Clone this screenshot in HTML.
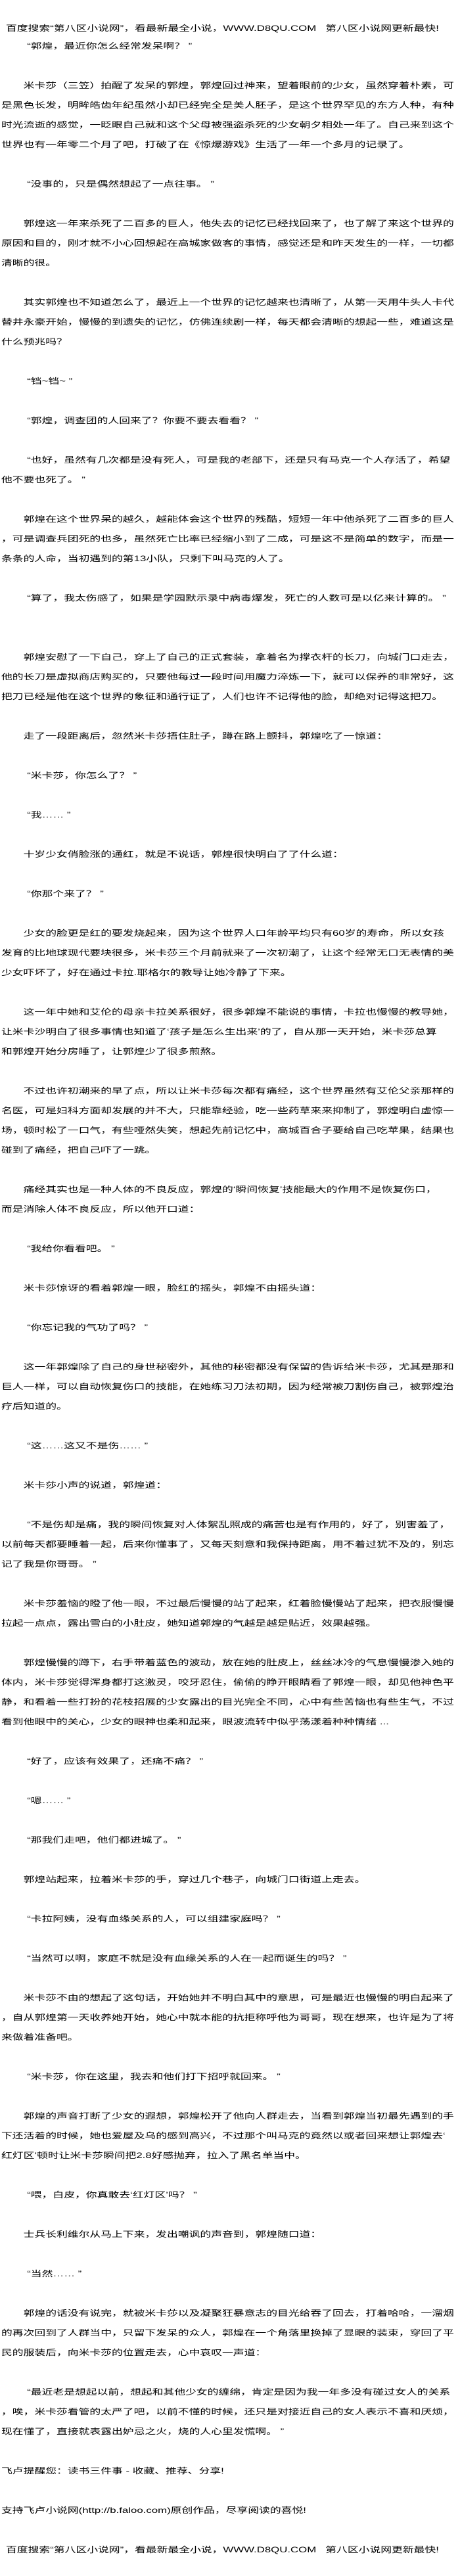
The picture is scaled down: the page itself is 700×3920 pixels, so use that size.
<!DOCTYPE html>
<html lang="zh-CN">
<head>
<meta charset="utf-8">
<style>
html,body{margin:0;padding:0;background:#fff;}
body{width:700px;height:3920px;position:relative;overflow:hidden;}
.wrap{position:absolute;left:2px;top:0;width:500px;transform:scaleX(1.4);transform-origin:0 0;
font-family:"Liberation Sans","Noto Sans CJK SC",sans-serif;font-size:12px;color:#000;}
.hd{position:absolute;left:5px;white-space:nowrap;height:30px;line-height:30px;}
.body{position:absolute;left:0;top:55px;width:500px;}
.l{height:30px;line-height:30px;white-space:nowrap;}
.p{padding-left:24px;}
.q{padding-left:28px;}
</style>
</head>
<body>
<div class="wrap">
<div class="hd" style="top:28px">百度搜索“第八区小说网”，看最新最全小说，WWW.D8QU.COM&nbsp;&nbsp;&nbsp;第八区小说网更新最快!</div>
<div class="body">
<div class="l q">“郭煌，最近你怎么经常发呆啊？ ”</div>
<div class="l"></div>
<div class="l p">米卡莎（三笠）拍醒了发呆的郭煌，郭煌回过神来，望着眼前的少女，虽然穿着朴素，可</div>
<div class="l">是黑色长发，明眸皓齿年纪虽然小却已经完全是美人胚子，是这个世界罕见的东方人种，有种</div>
<div class="l">时光流逝的感觉，一眨眼自己就和这个父母被强盗杀死的少女朝夕相处一年了。自己来到这个</div>
<div class="l">世界也有一年零二个月了吧，打破了在《惊爆游戏》生活了一年一个多月的记录了。</div>
<div class="l"></div>
<div class="l q">“没事的，只是偶然想起了一点往事。 ”</div>
<div class="l"></div>
<div class="l p">郭煌这一年来杀死了二百多的巨人，他失去的记忆已经找回来了，也了解了来这个世界的</div>
<div class="l">原因和目的，刚才就不小心回想起在高城家做客的事情，感觉还是和昨天发生的一样，一切都</div>
<div class="l">清晰的很。</div>
<div class="l"></div>
<div class="l p">其实郭煌也不知道怎么了，最近上一个世界的记忆越来也清晰了，从第一天用牛头人卡代</div>
<div class="l">替井永豪开始，慢慢的到遗失的记忆，仿佛连续剧一样，每天都会清晰的想起一些，难道这是</div>
<div class="l">什么预兆吗？</div>
<div class="l"></div>
<div class="l q">“铛~铛~ ”</div>
<div class="l"></div>
<div class="l q">“郭煌，调查团的人回来了？你要不要去看看？ ”</div>
<div class="l"></div>
<div class="l q">“也好，虽然有几次都是没有死人，可是我的老部下，还是只有马克一个人存活了，希望</div>
<div class="l">他不要也死了。 ”</div>
<div class="l"></div>
<div class="l p">郭煌在这个世界呆的越久，越能体会这个世界的残酷，短短一年中他杀死了二百多的巨人</div>
<div class="l">，可是调查兵团死的也多，虽然死亡比率已经缩小到了二成，可是这不是简单的数字，而是一</div>
<div class="l">条条的人命，当初遇到的第13小队，只剩下叫马克的人了。</div>
<div class="l"></div>
<div class="l q">“算了，我太伤感了，如果是学园默示录中病毒爆发，死亡的人数可是以亿来计算的。 ”</div>
<div class="l"></div>
<div class="l"></div>
<div class="l p">郭煌安慰了一下自己，穿上了自己的正式套装，拿着名为撑衣杆的长刀，向城门口走去，</div>
<div class="l">他的长刀是虚拟商店购买的，只要他每过一段时间用魔力淬炼一下，就可以保养的非常好，这</div>
<div class="l">把刀已经是他在这个世界的象征和通行证了，人们也许不记得他的脸，却绝对记得这把刀。</div>
<div class="l"></div>
<div class="l p">走了一段距离后，忽然米卡莎捂住肚子，蹲在路上颤抖，郭煌吃了一惊道：</div>
<div class="l"></div>
<div class="l q">“米卡莎，你怎么了？ ”</div>
<div class="l"></div>
<div class="l q">“我…… ”</div>
<div class="l"></div>
<div class="l p">十岁少女俏脸涨的通红，就是不说话，郭煌很快明白了了什么道：</div>
<div class="l"></div>
<div class="l q">“你那个来了？ ”</div>
<div class="l"></div>
<div class="l p">少女的脸更是红的要发烧起来，因为这个世界人口年龄平均只有60岁的寿命，所以女孩</div>
<div class="l">发育的比地球现代要块很多，米卡莎三个月前就来了一次初潮了，让这个经常无口无表情的美</div>
<div class="l">少女吓坏了，好在通过卡拉.耶格尔的教导让她冷静了下来。</div>
<div class="l"></div>
<div class="l p">这一年中她和艾伦的母亲卡拉关系很好，很多郭煌不能说的事情，卡拉也慢慢的教导她，</div>
<div class="l">让米卡沙明白了很多事情也知道了‘孩子是怎么生出来’的了，自从那一天开始，米卡莎总算</div>
<div class="l">和郭煌开始分房睡了，让郭煌少了很多煎熬。</div>
<div class="l"></div>
<div class="l p">不过也许初潮来的早了点，所以让米卡莎每次都有痛经，这个世界虽然有艾伦父亲那样的</div>
<div class="l">名医，可是妇科方面却发展的并不大，只能靠经验，吃一些药草来来抑制了，郭煌明白虚惊一</div>
<div class="l">场，顿时松了一口气，有些哑然失笑，想起先前记忆中，高城百合子要给自己吃苹果，结果也</div>
<div class="l">碰到了痛经，把自己吓了一跳。</div>
<div class="l"></div>
<div class="l p">痛经其实也是一种人体的不良反应，郭煌的‘瞬间恢复’技能最大的作用不是恢复伤口，</div>
<div class="l">而是消除人体不良反应，所以他开口道：</div>
<div class="l"></div>
<div class="l q">“我给你看看吧。 ”</div>
<div class="l"></div>
<div class="l p">米卡莎惊讶的看着郭煌一眼，脸红的摇头，郭煌不由摇头道：</div>
<div class="l"></div>
<div class="l q">“你忘记我的气功了吗？ ”</div>
<div class="l"></div>
<div class="l p">这一年郭煌除了自己的身世秘密外，其他的秘密都没有保留的告诉给米卡莎，尤其是那和</div>
<div class="l">巨人一样，可以自动恢复伤口的技能，在她练习刀法初期，因为经常被刀割伤自己，被郭煌治</div>
<div class="l">疗后知道的。</div>
<div class="l"></div>
<div class="l q">“这……这又不是伤…… ”</div>
<div class="l"></div>
<div class="l p">米卡莎小声的说道，郭煌道：</div>
<div class="l"></div>
<div class="l q">“不是伤却是痛，我的瞬间恢复对人体絮乱照成的痛苦也是有作用的，好了，别害羞了，</div>
<div class="l">以前每天都要睡着一起，后来你懂事了，又每天刻意和我保持距离，用不着过犹不及的，别忘</div>
<div class="l">记了我是你哥哥。 ”</div>
<div class="l"></div>
<div class="l p">米卡莎羞恼的瞪了他一眼，不过最后慢慢的站了起来，红着脸慢慢站了起来，把衣服慢慢</div>
<div class="l">拉起一点点，露出雪白的小肚皮，她知道郭煌的气越是越是贴近，效果越强。</div>
<div class="l"></div>
<div class="l p">郭煌慢慢的蹲下，右手带着蓝色的波动，放在她的肚皮上，丝丝冰冷的气息慢慢渗入她的</div>
<div class="l">体内，米卡莎觉得浑身都打这激灵，咬牙忍住，偷偷的睁开眼睛看了郭煌一眼，却见他神色平</div>
<div class="l">静，和看着一些打扮的花枝招展的少女露出的目光完全不同，心中有些苦恼也有些生气，不过</div>
<div class="l">看到他眼中的关心，少女的眼神也柔和起来，眼波流转中似乎荡漾着种种情绪 ...</div>
<div class="l"></div>
<div class="l q">“好了，应该有效果了，还痛不痛？ ”</div>
<div class="l"></div>
<div class="l q">“嗯…… ”</div>
<div class="l"></div>
<div class="l q">“那我们走吧，他们都进城了。 ”</div>
<div class="l"></div>
<div class="l p">郭煌站起来，拉着米卡莎的手，穿过几个巷子，向城门口街道上走去。</div>
<div class="l"></div>
<div class="l q">“卡拉阿姨，没有血缘关系的人，可以组建家庭吗？ ”</div>
<div class="l"></div>
<div class="l q">“当然可以啊，家庭不就是没有血缘关系的人在一起而诞生的吗？ ”</div>
<div class="l"></div>
<div class="l p">米卡莎不由的想起了这句话，开始她并不明白其中的意思，可是最近也慢慢的明白起来了</div>
<div class="l">，自从郭煌第一天收养她开始，她心中就本能的抗拒称呼他为哥哥，现在想来，也许是为了将</div>
<div class="l">来做着准备吧。</div>
<div class="l"></div>
<div class="l q">“米卡莎，你在这里，我去和他们打下招呼就回来。 ”</div>
<div class="l"></div>
<div class="l p">郭煌的声音打断了少女的遐想，郭煌松开了他向人群走去，当看到郭煌当初最先遇到的手</div>
<div class="l">下还活着的时候，她也爱屋及乌的感到高兴，不过那个叫马克的竟然以或者回来想让郭煌去‘</div>
<div class="l">红灯区’顿时让米卡莎瞬间把2.8好感抛弃，拉入了黑名单当中。</div>
<div class="l"></div>
<div class="l q">“喂，白皮，你真敢去‘红灯区’吗？ ”</div>
<div class="l"></div>
<div class="l p">士兵长利维尔从马上下来，发出嘲讽的声音到，郭煌随口道：</div>
<div class="l"></div>
<div class="l q">“当然…… ”</div>
<div class="l"></div>
<div class="l p">郭煌的话没有说完，就被米卡莎以及凝聚狂暴意志的目光给吞了回去，打着哈哈，一溜烟</div>
<div class="l">的再次回到了人群当中，只留下发呆的众人，郭煌在一个角落里换掉了显眼的装束，穿回了平</div>
<div class="l">民的服装后，向米卡莎的位置走去，心中哀叹一声道：</div>
<div class="l"></div>
<div class="l q">“最近老是想起以前，想起和其他少女的缠绵，肯定是因为我一年多没有碰过女人的关系</div>
<div class="l">，唉，米卡莎看管的太严了吧，以前不懂的时候，还只是对接近自己的女人表示不喜和厌烦，</div>
<div class="l">现在懂了，直接就表露出妒忌之火，烧的人心里发慌啊。 ”</div>
<div class="l"></div>
<div class="l">飞卢提醒您：读书三件事 - 收藏、推荐、分享!</div>
<div class="l"></div>
<div class="l">支持飞卢小说网(http://b.faloo.com)原创作品，尽享阅读的喜悦!</div>
<div class="l"></div>
<div class="l" style="padding-left:5px">百度搜索“第八区小说网”，看最新最全小说，WWW.D8QU.COM&nbsp;&nbsp;&nbsp;第八区小说网更新最快!</div>
</div>
</div>
</body>
</html>
